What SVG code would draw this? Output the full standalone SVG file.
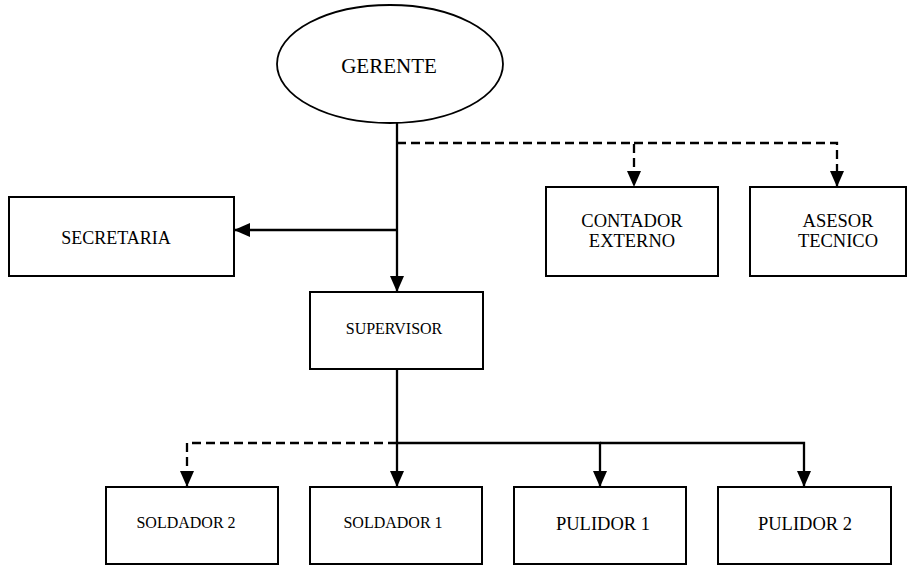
<svg xmlns="http://www.w3.org/2000/svg" width="909" height="565" viewBox="0 0 909 565">
<style>
  .box{fill:#fff;stroke:#000;stroke-width:2}
  .t{font-family:"Liberation Serif","Times New Roman",serif;fill:#000;text-anchor:middle}
  .c{fill:none;stroke:#000;stroke-width:2.3}
  .d{fill:none;stroke:#000;stroke-width:2.3;stroke-dasharray:9 5}
</style>
<defs>
  <marker id="ah" markerUnits="userSpaceOnUse" markerWidth="16" markerHeight="16" viewBox="0 0 16 16" refX="16" refY="8" orient="auto">
    <path d="M0,1 L16,8 L0,15 Z" fill="#000"/>
  </marker>
</defs>
<g id="connectors">
  <path class="c" d="M397,123 V292" marker-end="url(#ah)"/>
  <path class="c" d="M397,230 H234" marker-end="url(#ah)"/>
  <path class="d" d="M397,143 H634 V187" marker-end="url(#ah)"/>
  <path class="d" d="M634,143 H837 V187" marker-end="url(#ah)"/>
  <path class="c" d="M397,369 V487" marker-end="url(#ah)"/>
  <path class="d" d="M397,443 H187 V487" marker-end="url(#ah)"/>
  <path class="c" d="M397,443 H600 V487" marker-end="url(#ah)"/>
  <path class="c" d="M600,443 H804 V487" marker-end="url(#ah)"/>
</g>
<g id="gerente">
  <ellipse cx="390" cy="64" rx="113" ry="59" fill="#fff" stroke="#000" stroke-width="1.8"/>
  <text class="t" x="389" y="73" font-size="21">GERENTE</text>
</g>
<g id="secretaria">
  <rect class="box" x="9" y="197" width="225" height="79"/>
  <text class="t" x="116" y="244" font-size="18">SECRETARIA</text>
</g>
<g id="contador">
  <rect class="box" x="546" y="187" width="172" height="89"/>
  <text class="t" x="632" y="227" font-size="18.5">CONTADOR</text>
  <text class="t" x="632" y="247" font-size="18.5">EXTERNO</text>
</g>
<g id="asesor">
  <rect class="box" x="750" y="187" width="156" height="89"/>
  <text class="t" x="838" y="227" font-size="18.5">ASESOR</text>
  <text class="t" x="838" y="247" font-size="18.5">TECNICO</text>
</g>
<g id="supervisor">
  <rect class="box" x="310" y="292" width="173" height="77"/>
  <text class="t" x="394" y="334" font-size="16">SUPERVISOR</text>
</g>
<g id="soldador2">
  <rect class="box" x="106" y="487" width="172" height="77"/>
  <text class="t" x="186" y="528" font-size="16">SOLDADOR 2</text>
</g>
<g id="soldador1">
  <rect class="box" x="310" y="487" width="172" height="77"/>
  <text class="t" x="393" y="528" font-size="16">SOLDADOR 1</text>
</g>
<g id="pulidor1">
  <rect class="box" x="514" y="487" width="172" height="77"/>
  <text class="t" x="603" y="530" font-size="18.5">PULIDOR 1</text>
</g>
<g id="pulidor2">
  <rect class="box" x="718" y="487" width="173" height="77"/>
  <text class="t" x="805" y="530" font-size="18.5">PULIDOR 2</text>
</g>
</svg>
